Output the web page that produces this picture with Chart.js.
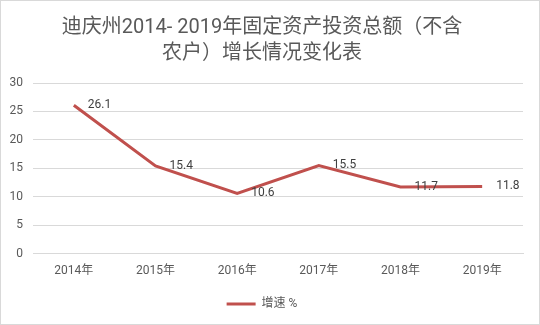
<!DOCTYPE html>
<html>
<head>
<meta charset="utf-8">
<script src="https://cdn.jsdelivr.net/npm/chart.js@4/dist/chart.umd.min.js"></script>
<style>
  html, body { margin: 0; padding: 0; background: #ffffff; }
  #frame { width: 540px; height: 325px; box-sizing: border-box; border: 1px solid #d9d9d9; background: #fff; }
  #frame canvas { display: block; }
</style>
</head>
<body>
<div id="frame"><canvas id="chart" width="538" height="323"></canvas></div>
<script>
// Years on the x axis and the yearly growth rate of fixed-asset investment (%)
const years = ['2014年', '2015年', '2016年', '2017年', '2018年', '2019年'];
const growth = [26.1, 15.4, 10.6, 15.5, 11.7, 11.8];
const seriesName = '增速 %';
const titleLines = ['迪庆州2014- 2019年固定资产投资总额（不含', '农户）增长情况变化表'];

const FONT = "Roboto, 'Noto Sans CJK SC', sans-serif";
const TEXT = '#595959';
const LINE = '#c0504d';

// Writes each point's value just to the right of the point
const valueLabels = {
  id: 'valueLabels',
  afterDatasetsDraw(chart) {
    const ctx = chart.ctx;
    const meta = chart.getDatasetMeta(0);
    const values = chart.data.datasets[0].data;
    ctx.save();
    ctx.font = '12px ' + FONT;
    ctx.fillStyle = '#404040';
    ctx.textAlign = 'left';
    ctx.textBaseline = 'middle';
    meta.data.forEach((pt, i) => {
      ctx.fillText(values[i].toFixed(1), pt.x + 14, pt.y);
    });
    ctx.restore();
  }
};

new Chart(document.getElementById('chart'), {
  type: 'line',
  data: {
    labels: years,
    datasets: [{
      label: seriesName,
      data: growth,
      borderColor: LINE,
      backgroundColor: LINE,
      borderWidth: 3,
      pointRadius: 0,
      tension: 0,
      fill: false
    }]
  },
  options: {
    responsive: false,
    animation: false,
    layout: { padding: { left: 0, right: 16, top: 0, bottom: 4 } },
    plugins: {
      title: {
        display: true,
        text: titleLines,
        color: TEXT,
        font: { family: FONT, size: 20, weight: 'normal', lineHeight: 1.3 },
        padding: { top: 14, bottom: 16 }
      },
      legend: {
        display: true,
        position: 'bottom',
        labels: {
          color: TEXT,
          font: { family: FONT, size: 12 },
          boxWidth: 29,
          boxHeight: 3,
          padding: 10,
          generateLabels(chart) {
            const ds = chart.data.datasets[0];
            return [{
              text: ds.label,
              fillStyle: LINE,
              strokeStyle: LINE,
              lineWidth: 0,
              fontColor: TEXT,
              datasetIndex: 0
            }];
          }
        }
      },
      tooltip: { enabled: false }
    },
    scales: {
      x: {
        offset: true,
        grid: { display: false, drawTicks: false },
        border: { display: true, color: '#d9d9d9', width: 1 },
        ticks: { color: TEXT, font: { family: FONT, size: 12 }, padding: 10, maxRotation: 0 }
      },
      y: {
        min: 0,
        max: 30,
        ticks: { stepSize: 5, color: TEXT, font: { family: FONT, size: 12 }, padding: 10 },
        grid: { color: '#d9d9d9', drawTicks: false },
        border: { display: false },
        afterFit(scale) { scale.width = 32; }
      }
    }
  },
  plugins: [valueLabels]
});
</script>
</body>
</html>
